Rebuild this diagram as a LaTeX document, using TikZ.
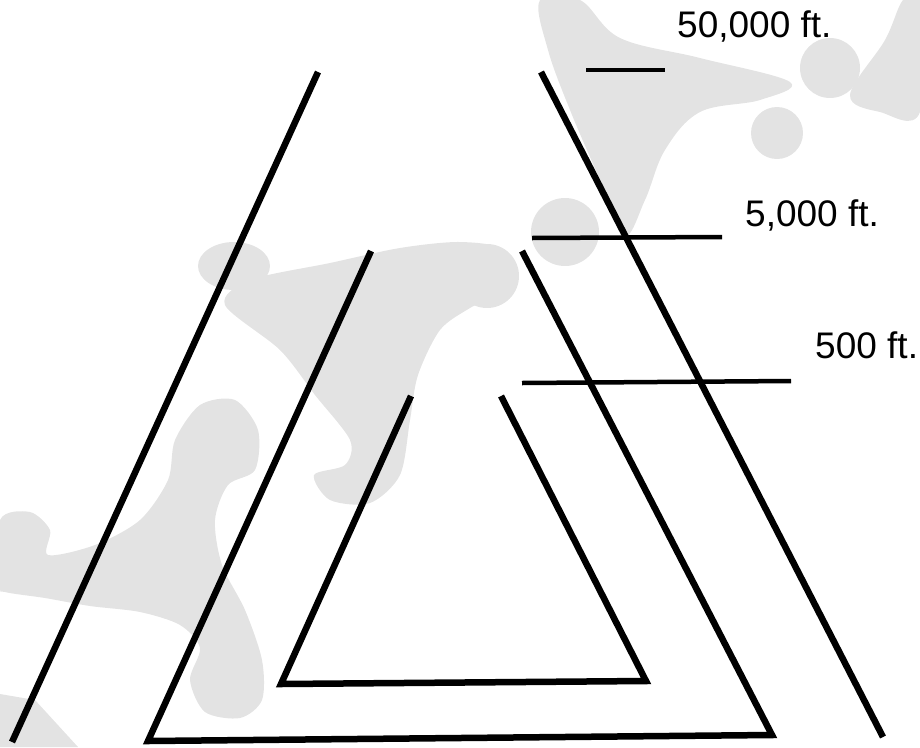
\documentclass[tikz,border=0pt]{standalone}
\usepackage{fontspec}
\setmainfont{Liberation Sans}
\begin{document}
\begin{tikzpicture}[x=1pt,y=-1pt,
  bg/.style={fill=black!11,draw=none},
  bar/.style={line width=6.5pt,line join=miter},
  tick/.style={line width=4.5pt},
  lbl/.style={anchor=base west,inner sep=0pt,font=\fontsize{37}{40}\selectfont}]
\useasboundingbox (0,0) rectangle (920,747);
% background swirls
\fill[bg] plot[smooth cycle,tension=0.6] coordinates {(540,0)(580,0)(620,38)(700,58)(790,82)(760,100)(700,112)(665,150)(645,200)(624,236)(600,180)(570,110)(548,50)};
\fill[bg] (830,68) circle[radius=30];
\fill[bg] (777,133) circle[radius=26];
\fill[bg] plot[smooth cycle,tension=0.6] coordinates {(850,95)(885,40)(903,0)(920,0)(920,112)(880,112)};
\fill[bg] (565,232) circle[radius=34];
\fill[bg] (487,276) circle[radius=32];
\fill[bg] (234,266) ellipse[x radius=36,y radius=24];
\fill[bg] plot[smooth cycle,tension=0.5] coordinates {(250,280)(330,263)(400,248)(460,242)(505,250)(512,285)(470,308)(440,330)(418,375)(410,420)(400,475)(370,503)(330,500)(314,475)(345,465)(350,440)(315,395)(280,350)(225,305)};
\fill[bg] plot[smooth cycle,tension=0.5] coordinates {(175,440)(200,405)(235,400)(258,430)(255,470)(228,485)(215,520)(222,565)(245,610)(262,660)(262,700)(240,718)(205,712)(190,680)(200,648)(180,625)(140,612)(90,606)(45,598)(5,592)(0,585)(0,520)(30,512)(50,530)(48,555)(95,545)(140,520)(168,480)};
\fill[bg] (0,694) -- (35,700) -- (78,747) -- (0,747) -- cycle;
% outer lines
\coordinate (oLt) at (318,72);
\coordinate (oLb) at (12,742);
\coordinate (oRt) at (541,72);
\coordinate (oRb) at (883,737);
% middle triangle
\coordinate (mLt) at (371,251);
\coordinate (mLb) at (148,741);
\coordinate (mRt) at (522,251);
\coordinate (mRb) at (772,735);
% inner triangle
\coordinate (iLt) at (411,396);
\coordinate (iLb) at (281,684);
\coordinate (iRt) at (501,396);
\coordinate (iRb) at (646,681);
\draw[bar] (oLt) -- (oLb);
\draw[bar] (oRt) -- (oRb);
\draw[bar] (mLt) -- (mLb) -- (mRb) -- (mRt);
\draw[bar] (iLt) -- (iLb) -- (iRb) -- (iRt);
% altitude marks
\coordinate (a1) at (586,70);
\coordinate (b1) at (665,70);
\coordinate (a2) at (532,238);
\coordinate (b2) at (722,237);
\coordinate (a3) at (522,383);
\coordinate (b3) at (791,381);
\draw[tick] (a1) -- (b1);
\draw[tick] (a2) -- (b2);
\draw[tick] (a3) -- (b3);
\node[lbl] (t1) at (677,37) {50,000 ft.};
\node[lbl] (t2) at (745,226) {5,000 ft.};
\node[lbl] (t3) at (815,358) {500 ft.};
\end{tikzpicture}
\end{document}
